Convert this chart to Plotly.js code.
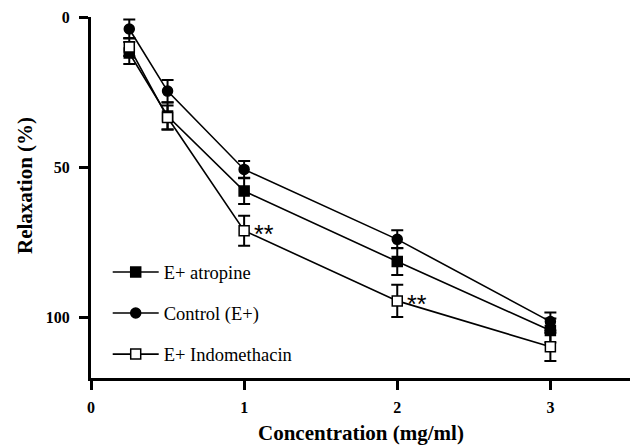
<!DOCTYPE html>
<html>
<head>
<meta charset="utf-8">
<script src="https://cdn.plot.ly/plotly-3.0.1.min.js"></script>
<style>
  html, body { margin: 0; padding: 0; background: #fff; }
  #chart { width: 634px; height: 446px; }
</style>
</head>
<body>
<div id="chart"></div>
<script>
// Concentrations (mg/ml)
const concentration = [0.25, 0.5, 1, 2, 3];

// Mean relaxation (%) and SEM for each group
const atropineMean = [12, 33, 58, 81.5, 104.5];
const atropineErr  = [3.7, 4.5, 4.3, 4.5, 4];
const controlMean  = [4, 24.7, 50.8, 74.1, 101.5];
const controlErr   = [3.2, 3.7, 2.8, 3.0, 3.0];
const indoMean     = [10, 33.5, 71.2, 94.6, 109.9];
const indoErr      = [3, 4, 5, 5.4, 4.7];

// Points flagged as significant
const sigX = [1, 2];
const sigY = [71.2, 94.6];
const sigLabel = '**';

const xTicks = [0, 1, 2, 3];
const yTicks = [0, 50, 100];

const xTitle = 'Concentration (mg/ml)';
const yTitle = 'Relaxation (%)';

const serif = 'Liberation Serif';

function series(name, y, err, fill, symbol, group) {
  return {
    x: concentration, y: y, name: name, type: 'scatter', mode: 'lines+markers',
    legendgroup: group,
    line: { color: '#000', width: 1.6 },
    marker: { symbol: symbol, size: 10, color: fill, line: { color: '#000', width: 1.5 } },
    error_y: { type: 'data', array: err, visible: true, color: '#000', thickness: 2, width: 6 },
    cliponaxis: false
  };
}

const data = [
  series('E+ atropine', atropineMean, atropineErr, '#000', 'square', 'a'),
  series('Control (E+)', controlMean, controlErr, '#000', 'circle', 'b'),
  series('E+ Indomethacin', indoMean, indoErr, '#fff', 'square', 'c')
];

const titleFont = { family: serif, size: 21, weight: 'bold', color: '#000' };
const tickFont = { family: serif, size: 16, weight: 'bold', color: '#000' };

const annotations = sigX.map((x, i) => ({
  x: x, y: sigY[i], xref: 'x', yref: 'y', text: sigLabel, showarrow: false,
  xanchor: 'left', yanchor: 'middle', xshift: 8, yshift: -3,
  font: { family: 'Liberation Sans', size: 25, color: '#000' }
}));
// Axis titles
annotations.push({
  x: 0.5, y: -0.152, xref: 'paper', yref: 'paper', xanchor: 'center', yanchor: 'middle',
  showarrow: false, text: xTitle, font: titleFont
});
annotations.push({
  x: -0.1224, y: 0.532, xref: 'paper', yref: 'paper', xanchor: 'center', yanchor: 'middle',
  textangle: -90, showarrow: false, text: yTitle, font: titleFont
});

const layout = {
  width: 634, height: 446,
  margin: { l: 91, r: 4, t: 17, b: 68 },
  paper_bgcolor: '#fff', plot_bgcolor: '#fff',
  font: { family: serif, color: '#000' },
  showlegend: true,
  legend: {
    x: 0.031, y: 0.345, xanchor: 'left', yanchor: 'top',
    traceorder: 'grouped', tracegroupgap: 14, itemwidth: 46,
    bgcolor: 'rgba(0,0,0,0)',
    font: { family: serif, size: 18.5, color: '#000' }
  },
  xaxis: {
    range: [0, 3.52], tickvals: xTicks, ticktext: xTicks.map(String),
    showgrid: false, zeroline: false, showline: true, linecolor: '#000', linewidth: 3,
    ticks: 'outside', ticklen: 9, tickwidth: 3, tickcolor: '#000',
    ticklabelstandoff: 4,
    tickfont: tickFont
  },
  yaxis: {
    range: [120.3, 0], tickvals: yTicks, ticktext: yTicks.map(String),
    showgrid: false, zeroline: false, showline: true, linecolor: '#000', linewidth: 3,
    ticks: 'outside', ticklen: 9, tickwidth: 3, tickcolor: '#000',
    ticklabelstandoff: 6,
    tickfont: tickFont
  },
  annotations: annotations
};

Plotly.newPlot('chart', data, layout, { displayModeBar: false, staticPlot: true });
</script>
</body>
</html>
